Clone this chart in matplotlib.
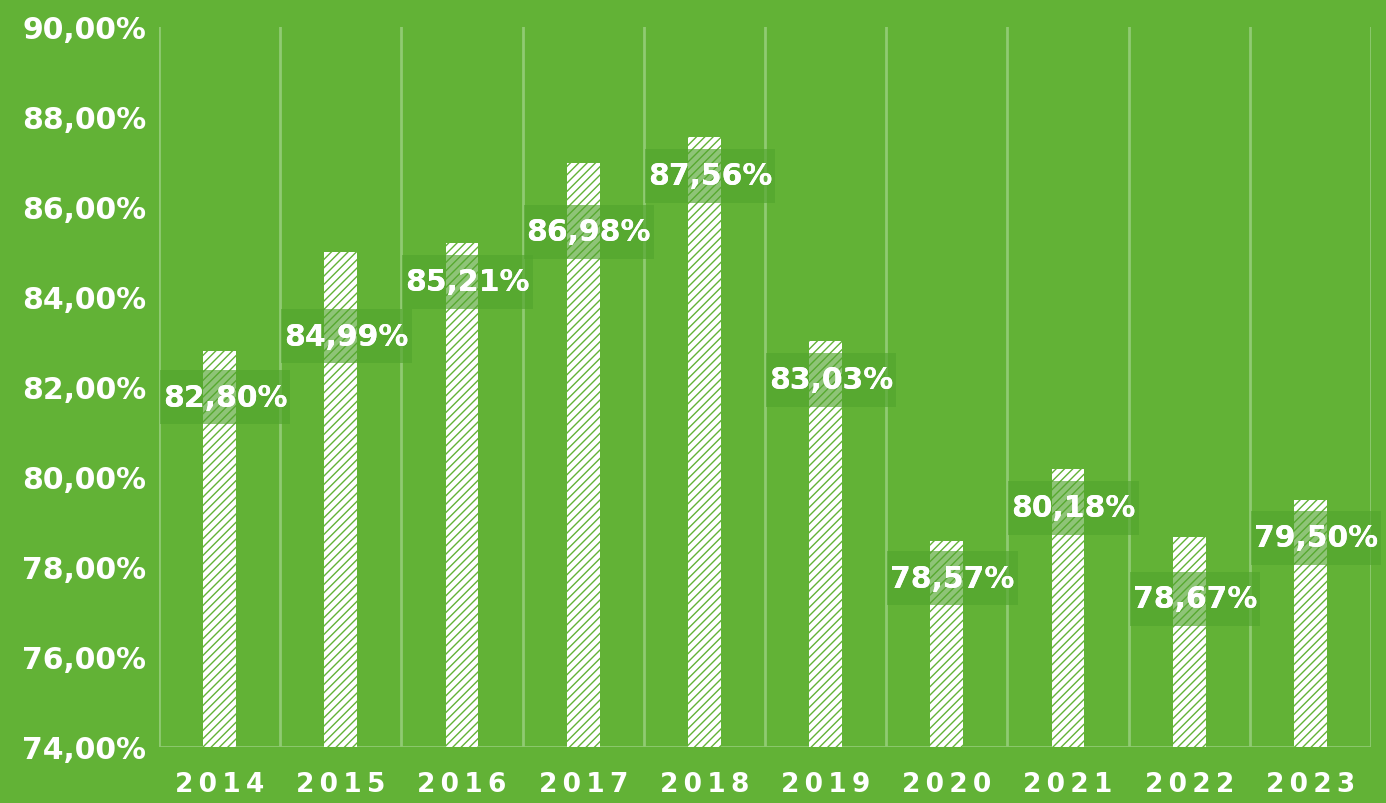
import matplotlib
matplotlib.use("Agg")
import matplotlib.pyplot as plt
from matplotlib.patches import Rectangle
from matplotlib.ticker import FuncFormatter

years = ["2014", "2015", "2016", "2017", "2018", "2019", "2020", "2021", "2022", "2023"]
values = [82.80, 84.99, 85.21, 86.98, 87.56, 83.03, 78.57, 80.18, 78.67, 79.50]
yticks = [74, 76, 78, 80, 82, 84, 86, 88, 90]

BG = "#62B236"
GRID = "#90CA72"
BOX = "#52A52E"
plt.rcParams['font.family'] = ['DejaVu Sans']
plt.rcParams['hatch.linewidth'] = 1.0
plt.rcParams['hatch.color'] = BG

W, H = 1386, 804
fig = plt.figure(figsize=(W / 100, H / 100), dpi=100, facecolor=BG)
ax = fig.add_axes([159/W, 1-748/H, (1371-159)/W, (748-28)/H])
ax.set_facecolor(BG)

x = list(range(len(years)))
ax.bar(x, [v - 74 for v in values], bottom=74, width=0.27, color="white",
       edgecolor=BG, hatch="////", linewidth=0, zorder=2)

# label placement (pixels below bar top), mimicking the original layout
label_drop_px = [46, 84, 39, 69, 39, 39, 37, 39, 62, 38]
LFS = 21.5

texts = []
for xi, v, d in zip(x, values, label_drop_px):
    t = ax.annotate(f"{v:.2f}".replace(".", ",") + "%", (xi, v), xytext=(4, -d * 0.72),
                    textcoords="offset points", ha="center", va="center",
                    fontsize=LFS, fontweight="bold", color="white", zorder=5)
    texts.append(t)

ax.set_xlim(-0.5, len(years) - 0.5)
ax.set_ylim(74, 90)
for b in range(len(years) + 1):
    ax.axvline(b - 0.5, color=GRID, lw=2, zorder=1)
ax.axhline(74, color=GRID, lw=2, zorder=1)
for s in ax.spines.values():
    s.set_visible(False)

ax.set_yticks(yticks)
ax.yaxis.set_major_formatter(FuncFormatter(lambda v, p: f"{v:.2f}".replace(".", ",") + "%"))
ax.set_xticks(x)
ax.set_xticklabels(["\u2009".join(y) for y in years])
ax.tick_params(axis="both", length=0, colors="white")
for t in ax.get_yticklabels():
    t.set_fontsize(21.5); t.set_fontweight("bold")
for t in ax.get_xticklabels():
    t.set_fontsize(19); t.set_fontweight("bold")
ax.tick_params(axis="y", pad=9)
ax.tick_params(axis="x", pad=17)

# label boxes, sized from the rendered text
fig.canvas.draw()
r = fig.canvas.get_renderer()
for t in texts:
    e = t.get_window_extent(r)
    cy = (e.y0 + e.y1) / 2
    bw = e.width + 6
    bh = 54
    fig.patches.append(Rectangle(((e.x0 - 3) / W, (cy - bh / 2) / H), bw / W, bh / H,
                                 transform=fig.transFigure, facecolor=BOX,
                                 edgecolor="none", alpha=0.65, zorder=4))
    fig.texts.append(fig.text((e.x0 + e.x1) / 2 / W, cy / H, t.get_text(),
                              ha="center", va="center", fontsize=LFS,
                              fontweight="bold", color="white", zorder=6))
    t.set_visible(False)

fig.savefig("out.png", dpi=100, facecolor=BG)
